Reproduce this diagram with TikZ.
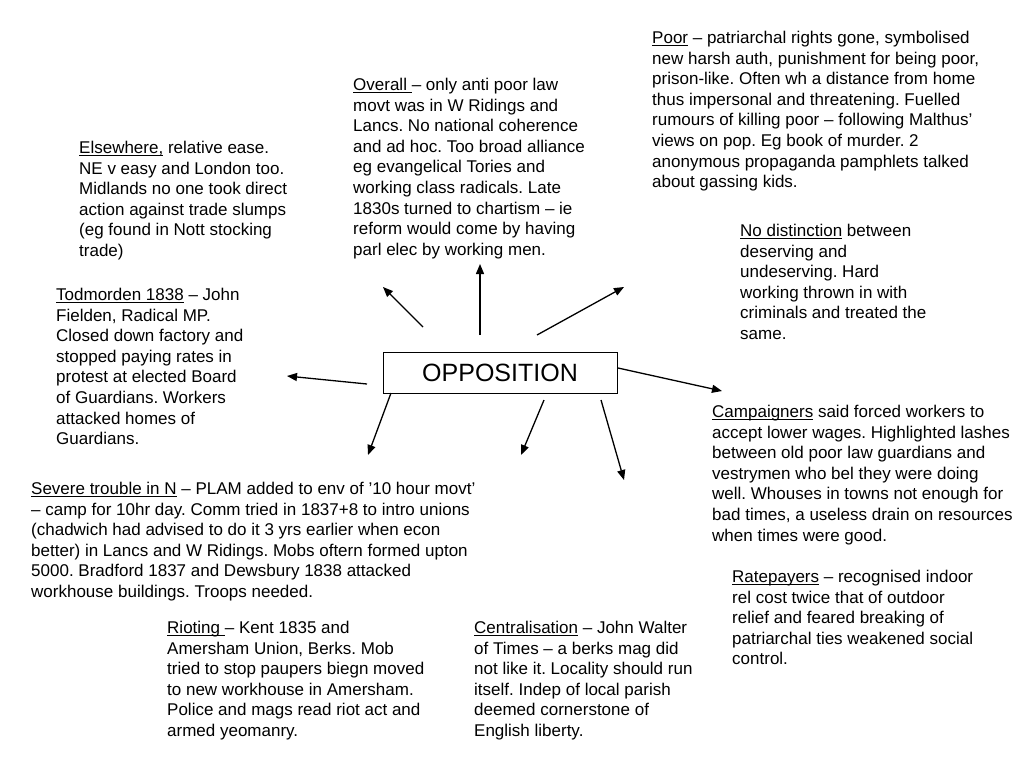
\documentclass[tikz,border=0pt]{standalone}
\usepackage{fontspec}
\setmainfont{Liberation Sans}
\usetikzlibrary{arrows.meta}
\frenchspacing
\newsavebox\hdbox
\newcommand\hd[1]{\sbox\hdbox{#1}\rlap{\rule[-2.6pt]{\wd\hdbox}{1.0pt}}\usebox\hdbox}
\tikzset{
  note/.style={anchor=north west, inner sep=0pt, align=left,
    font=\fontsize{17}{20.6}\selectfont,
    execute at begin node={\frenchspacing\rule{0pt}{13pt}}},
  arr/.style={line width=1.3pt, -{Triangle[length=10pt,width=8pt]}},
  centre/.style={draw, line width=0.8pt, minimum width=234pt, minimum height=41pt,
    inner sep=0pt, font=\fontsize{25}{30}\selectfont}
}
\begin{document}
\begin{tikzpicture}[x=1pt,y=-1pt]
\useasboundingbox[fill=white] (0,0) rectangle (1024,768);

\node[centre] (opp) at (500,372.5) {OPPOSITION};

\node[note] (poor) at (652,31) {\hd{Poor} – patriarchal rights gone, symbolised\\
new harsh auth, punishment for being poor,\\
prison-like. Often wh a distance from home\\
thus impersonal and threatening. Fuelled\\
rumours of killing poor – following Malthus’\\
views on pop. Eg book of murder. 2\\
anonymous propaganda pamphlets talked\\
about gassing kids.};

\node[note] (overall) at (353,78) {\hd{Overall }– only anti poor law\\
movt was in W Ridings and\\
Lancs. No national coherence\\
and ad hoc. Too broad alliance\\
eg evangelical Tories and\\
working class radicals. Late\\
1830s turned to chartism – ie\\
reform would come by having\\
parl elec by working men.};

\node[note] (else) at (79,141) {\hd{Elsewhere,} relative ease.\\
NE v easy and London too.\\
Midlands no one took direct\\
action against trade slumps\\
(eg found in Nott stocking\\
trade)};

\node[note] (tod) at (56,288) {\hd{Todmorden 1838} – John\\
Fielden, Radical MP.\\
Closed down factory and\\
stopped paying rates in\\
protest at elected Board\\
of Guardians. Workers\\
attacked homes of\\
Guardians.};

\node[note] (nodist) at (740,224) {\hd{No distinction} between\\
deserving and\\
undeserving. Hard\\
working thrown in with\\
criminals and treated the\\
same.};

\node[note] (camp) at (712,405) {\hd{Campaigners} said forced workers to\\
accept lower wages. Highlighted lashes\\
between old poor law guardians and\\
vestrymen who bel they were doing\\
well. Whouses in towns not enough for\\
bad times, a useless drain on resources\\
when times were good.};

\node[note] (rate) at (732,570) {\hd{Ratepayers} – recognised indoor\\
rel cost twice that of outdoor\\
relief and feared breaking of\\
patriarchal ties weakened social\\
control.};

\node[note] (severe) at (31,482) {\hd{Severe trouble in N} – PLAM added to env of ’10 hour movt’\\
– camp for 10hr day. Comm tried in 1837+8 to intro unions\\
(chadwich had advised to do it 3 yrs earlier when econ\\
better) in Lancs and W Ridings. Mobs oftern formed upton\\
5000. Bradford 1837 and Dewsbury 1838 attacked\\
workhouse buildings. Troops needed.};

\node[note] (riot) at (167,621) {\hd{Rioting }– Kent 1835 and\\
Amersham Union, Berks. Mob\\
tried to stop paupers biegn moved\\
to new workhouse in Amersham.\\
Police and mags read riot act and\\
armed yeomanry.};

\node[note] (central) at (474,621) {\hd{Centralisation} – John Walter\\
of Times – a berks mag did\\
not like it. Locality should run\\
itself. Indep of local parish\\
deemed cornerstone of\\
English liberty.};

% arrow end points
\coordinate (s1) at (423,327); \coordinate (e1) at (383,287);
\coordinate (s2) at (480,335); \coordinate (e2) at (480,264);
\coordinate (s3) at (537,335); \coordinate (e3) at (624,287);
\coordinate (s4) at (367,384); \coordinate (e4) at (287,376);
\coordinate (s5) at (618,368); \coordinate (e5) at (722,391);
\coordinate (s6) at (391,393); \coordinate (e6) at (368,455);
\coordinate (s7) at (544,400); \coordinate (e7) at (521,455);
\coordinate (s8) at (601,400); \coordinate (e8) at (624,480);

\draw[arr] (s1) -- (e1);
\draw[arr] (s2) -- (e2);
\draw[arr] (s3) -- (e3);
\draw[arr] (s4) -- (e4);
\draw[arr] (s5) -- (e5);
\draw[arr] (s6) -- (e6);
\draw[arr] (s7) -- (e7);
\draw[arr] (s8) -- (e8);
\end{tikzpicture}
\end{document}
